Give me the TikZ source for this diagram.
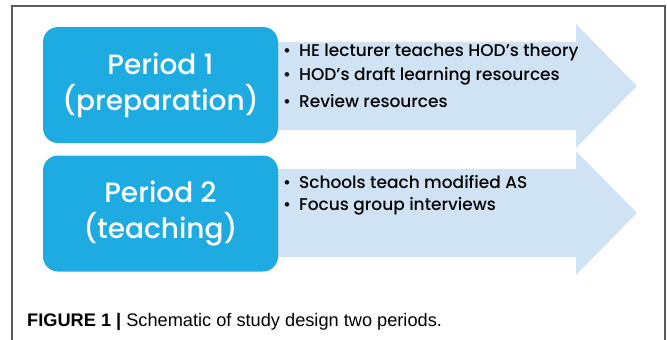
\documentclass[tikz,border=0pt]{standalone}
\usepackage{fontspec}
\setmainfont{Liberation Sans}
\newfontfamily\gothic{Poppins Medium}
\usepackage{tikz}
\usetikzlibrary{positioning}
\definecolor{periodblue}{RGB}{29,171,226}
\definecolor{arrowblue}{RGB}{208,227,244}
\definecolor{framegray}{RGB}{90,90,90}
\tikzset{
  period/.style={fill=periodblue, rounded corners=15pt, minimum width=235pt,
    minimum height=116pt, align=center, text=white, inner sep=0pt,
    font=\gothic\fontsize{28}{36}\selectfont},
  item/.style={anchor=west, inner sep=0pt, font=\gothic\fontsize{17}{20}\selectfont}
}

\begin{document}
\begin{tikzpicture}[x=1pt, y=-1pt]
    \path[use as bounding box] (0, 0) rectangle (667, 340);

    \draw[framegray, line width=1.2pt] (12, 360) -- (12, 6) -- (665, 6) -- (665, 360);

    \foreach \y in {86, 213} {
      \fill[arrowblue] (260, \y-44) -- (576, \y-44) -- (576, \y-62) -- (637, \y)
        -- (576, \y+62) -- (576, \y+44) -- (260, \y+44) -- cycle;
    }

    \node[period] (p1) at (160.5, 85) {Period 1\\(preparation)};
    \node[period] (p2) at (160.5, 213.5) {Period 2\\(teaching)};

    \node[item] (a1) at (283, 52)  {\textbullet\hspace{8pt}HE lecturer teaches HOD’s theory};
    \node[item] (a2) at (283, 76.5) {\textbullet\hspace{8pt}HOD’s draft learning resources};
    \node[item] (a3) at (283, 101) {\textbullet\hspace{8pt}Review resources};

    \node[item] (b1) at (283, 182) {\textbullet\hspace{8pt}Schools teach modified AS};
    \node[item] (b2) at (283, 206.5) {\textbullet\hspace{8pt}Focus group interviews};

    \node[anchor=base west, inner sep=0pt, font=\fontsize{18.2}{22}\selectfont] (cap) at (27, 326)
      {\textbf{FIGURE 1 |} Schematic of study design two periods.};
\end{tikzpicture}
\end{document}
